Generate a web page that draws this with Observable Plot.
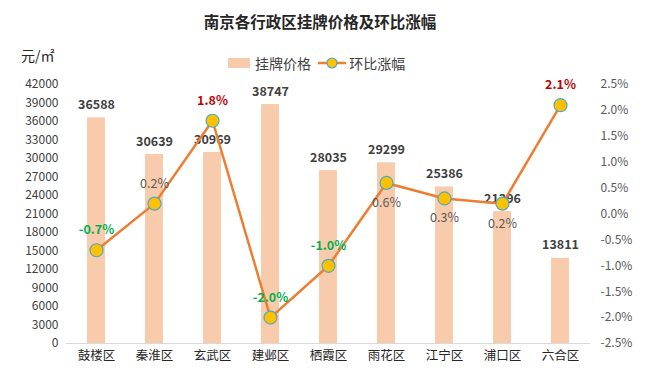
<!DOCTYPE html>
<html><head><meta charset="utf-8">
<script src="https://cdn.jsdelivr.net/npm/d3@7"></script>
<script src="https://cdn.jsdelivr.net/npm/@observablehq/plot@0.6"></script>
<style>
body{margin:0;background:#fff;font-family:"Noto Sans CJK SC","Noto Sans",sans-serif;}
#wrap{position:relative;width:671px;height:377px;}
.abs{position:absolute;white-space:nowrap;color:#404040;}
</style></head>
<body><div id="wrap"></div>
<script>
const districts = ["鼓楼区","秦淮区","玄武区","建邺区","栖霞区","雨花区","江宁区","浦口区","六合区"];
const prices = [36588, 30639, 30969, 38747, 28035, 29299, 25386, 21396, 13811];
const changes = [-0.7, 0.2, 1.8, -2.0, -1.0, 0.6, 0.3, 0.2, 2.1];
const leftTicks = d3.range(0, 42001, 3000);
const rightTicks = [-2.5,-2.0,-1.5,-1.0,-0.5,0,0.5,1.0,1.5,2.0,2.5];

const labelBelow = new Set(["雨花区","江宁区","浦口区"]);
const yMax = 42000, pMin = -2.5, pMax = 2.5;
const toY = p => (p - pMin) / (pMax - pMin) * yMax;
const data = districts.map((name, i) => ({name, price: prices[i], pct: changes[i]}));
const pctColor = p => p < 0 ? "#00B050" : (p >= 1 ? "#C00000" : "#595959");
const font = "Noto Sans CJK SC";
const strong = d => Math.abs(d.pct) >= 0.7;

const pctText = (filter, dy, bold) => Plot.text(data.filter(filter), {
  x: "name", y: d => toY(d.pct), text: d => d.pct.toFixed(1) + "%", dy,
  fontSize: 12.5, fontWeight: bold ? "bold" : "normal", fill: d => pctColor(d.pct)});

const plot = Plot.plot({
  width: 671, height: 377,
  marginTop: 84, marginBottom: 34, marginLeft: 66, marginRight: 81,
  style: {fontFamily: font, background: "transparent"},
  x: {domain: districts, paddingInner: 0.69, paddingOuter: 0.345, axis: null, label: null},
  y: {domain: [0, yMax], axis: null, label: null},
  marks: [
    Plot.barY(data, {x: "name", y: "price", fill: "#F8CBAD"}),
    Plot.ruleY([0], {stroke: "#D9D9D9", strokeWidth: 1}),
    Plot.axisY({ticks: leftTicks, tickSize: 0, tickPadding: 8, fontSize: 12, fill: "#404040", label: null, tickFormat: d => String(d)}),
    Plot.axisY({anchor: "right", ticks: rightTicks.map(toY), tickSize: 0, tickPadding: 10, fontSize: 12, fill: "#595959", label: null,
      tickFormat: d => ((d / yMax) * (pMax - pMin) + pMin).toFixed(1) + "%"}),
    Plot.axisX({tickSize: 0, tickPadding: 8, fontSize: 12.5, fill: "#262626", label: null}),
    Plot.text(data, {x: "name", y: "price", text: d => String(d.price), dy: -13, fontSize: 12.5, fontWeight: "bold", fill: "#404040"}),
    Plot.line(data, {x: "name", y: d => toY(d.pct), stroke: "#ED7D31", strokeWidth: 2.5}),
    Plot.dot(data, {x: "name", y: d => toY(d.pct), r: 6.5, fill: "#FFC000", stroke: "#4BACC6", strokeWidth: 1.2}),
    pctText(d => !labelBelow.has(d.name) && strong(d), -20, true),
    pctText(d => !labelBelow.has(d.name) && !strong(d), -20, false),
    pctText(d => labelBelow.has(d.name), 20, false)
  ]
});
const wrap = document.getElementById("wrap");
wrap.appendChild(plot);
plot.style.position = "absolute"; plot.style.left = "0"; plot.style.top = "0";

function addDiv(html, css){ const d = document.createElement("div"); d.className = "abs"; d.innerHTML = html; Object.assign(d.style, css); wrap.appendChild(d); }
addDiv("南京各行政区挂牌价格及环比涨幅", {left: "0", width: "640px", textAlign: "center", top: "10px", fontSize: "15.5px", fontWeight: "bold", color: "#262626"});
addDiv("元/㎡", {left: "21px", top: "45px", fontSize: "14px", color: "#262626"});
addDiv(`<span style="display:inline-block;width:22px;height:10px;background:#F8CBAD;vertical-align:middle;margin-right:5px"></span><span style="vertical-align:middle">挂牌价格</span>
<svg width="28" height="14" style="vertical-align:middle;margin:0 3px 0 4px"><line x1="0" y1="7" x2="28" y2="7" stroke="#ED7D31" stroke-width="2.5"/><circle cx="14" cy="7" r="5" fill="#FFC000" stroke="#4BACC6" stroke-width="1.2"/></svg><span style="vertical-align:middle">环比涨幅</span>`,
  {left: "228px", top: "51px", fontSize: "14px", color: "#404040"});
</script></body></html>
